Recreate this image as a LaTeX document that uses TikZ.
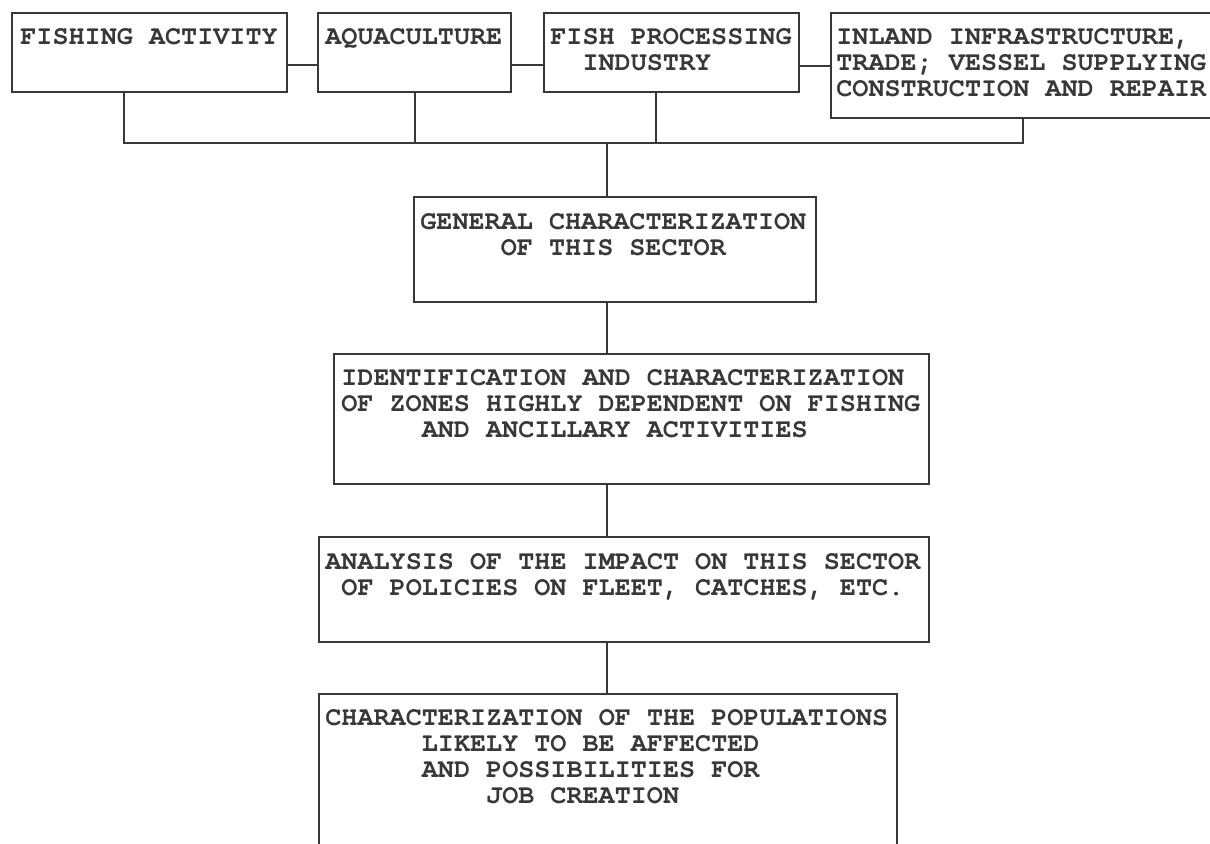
\documentclass[tikz,border=0pt]{standalone}
\usepackage{fontspec}
\newfontfamily\typewr{texgyrecursor-bold.otf}
\definecolor{ink}{HTML}{383838}
\tikzset{box/.style  = {draw=ink, line width=1.2pt, rectangle, inner sep=0pt, anchor=north west},
         dims/.style 2 args = {minimum width=#1*0.5pt, minimum height=#2*0.5pt},
         txt/.style  = {inner sep=0pt, anchor=north west, align=left, text=ink,
                        font=\typewr\fontsize{13.4}{13}\selectfont},
         link/.style = {draw=ink, line width=1.1pt}}

\begin{document}
\begin{tikzpicture}[x=0.5pt, y=-0.5pt]
    \clip (0, 0) rectangle (1210, 844);
    \fill [white] (0, 0) rectangle (1210, 844);

    \node [box, dims={275}{79}]  (fish)   at (11, 12) {};
    \node [box, dims={193}{79}]  (aqua)   at (317, 12) {};
    \node [box, dims={255}{79}]  (proc)   at (543, 12) {};
    \node [box, dims={400}{105}] (inland) at (830, 12) {};
    \node [box, dims={402}{105}] (gen)    at (413, 196) {};
    \node [box, dims={595}{130}] (ident)  at (333, 353) {};
    \node [box, dims={610}{105}] (anal)   at (318, 536) {};
    \node [box, dims={578}{177}] (popul)  at (318, 693) {};

    \node [txt] (fish-t)   at ([shift={(9, 16)}]fish.north west) {FISHING ACTIVITY};
    \node [txt] (aqua-t)   at ([shift={(8, 16)}]aqua.north west) {AQUACULTURE};
    \node [txt] (proc-t)   at ([shift={(7, 16)}]proc.north west)
        {FISH PROCESSING\\\hphantom{XX}INDUSTRY};
    \node [txt] (inland-t) at ([shift={(6, 16)}]inland.north west)
        {INLAND INFRASTRUCTURE,\\TRADE; VESSEL SUPPLYING\\CONSTRUCTION AND REPAIR};
    \node [txt] (gen-t)    at ([shift={(7, 17)}]gen.north west)
        {GENERAL CHARACTERIZATION\\\hphantom{XXXXX}OF THIS SECTOR};
    \node [txt] (ident-t)  at ([shift={(8, 16)}]ident.north west)
        {IDENTIFICATION AND CHARACTERIZATION\\OF ZONES HIGHLY DEPENDENT ON FISHING\\\hphantom{XXXXX}AND ANCILLARY ACTIVITIES};
    \node [txt] (anal-t)   at ([shift={(7, 17)}]anal.north west)
        {ANALYSIS OF THE IMPACT ON THIS SECTOR\\\hphantom{X}OF POLICIES ON FLEET, CATCHES, ETC.};
    \node [txt] (popul-t)  at ([shift={(7, 16)}]popul.north west)
        {CHARACTERIZATION OF THE POPULATIONS\\\hphantom{XXXXXX}LIKELY TO BE AFFECTED\\\hphantom{XXXXXX}AND POSSIBILITIES FOR\\\hphantom{XXXXXXXXXX}JOB CREATION};

    \coordinate (busL) at (124, 143);
    \coordinate (busR) at (1023, 143);
    \coordinate (hub)  at (607, 143);

    \draw [link] ([yshift=-6.25pt]fish.east) -- ([yshift=-6.25pt]aqua.west);
    \draw [link] ([yshift=-6.25pt]aqua.east) -- ([yshift=-6.25pt]proc.west);
    \draw [link] (inland.west -| proc.east) -- (inland.west);

    \draw [link] (fish.south -| busL) -- (busL) -- (busR) -- (busR |- inland.south);
    \draw [link] (aqua.south) -- (aqua.south |- busL);
    \draw [link] ([xshift=-7.75pt]proc.south) -- ([xshift=-7.75pt]proc.south |- busL);

    \draw [link] (hub) -- (gen.north -| hub);
    \draw [link] (gen.south -| hub) -- (ident.north -| hub);
    \draw [link] (ident.south -| hub) -- (anal.north -| hub);
    \draw [link] (anal.south -| hub) -- (popul.north -| hub);
\end{tikzpicture}
\end{document}
